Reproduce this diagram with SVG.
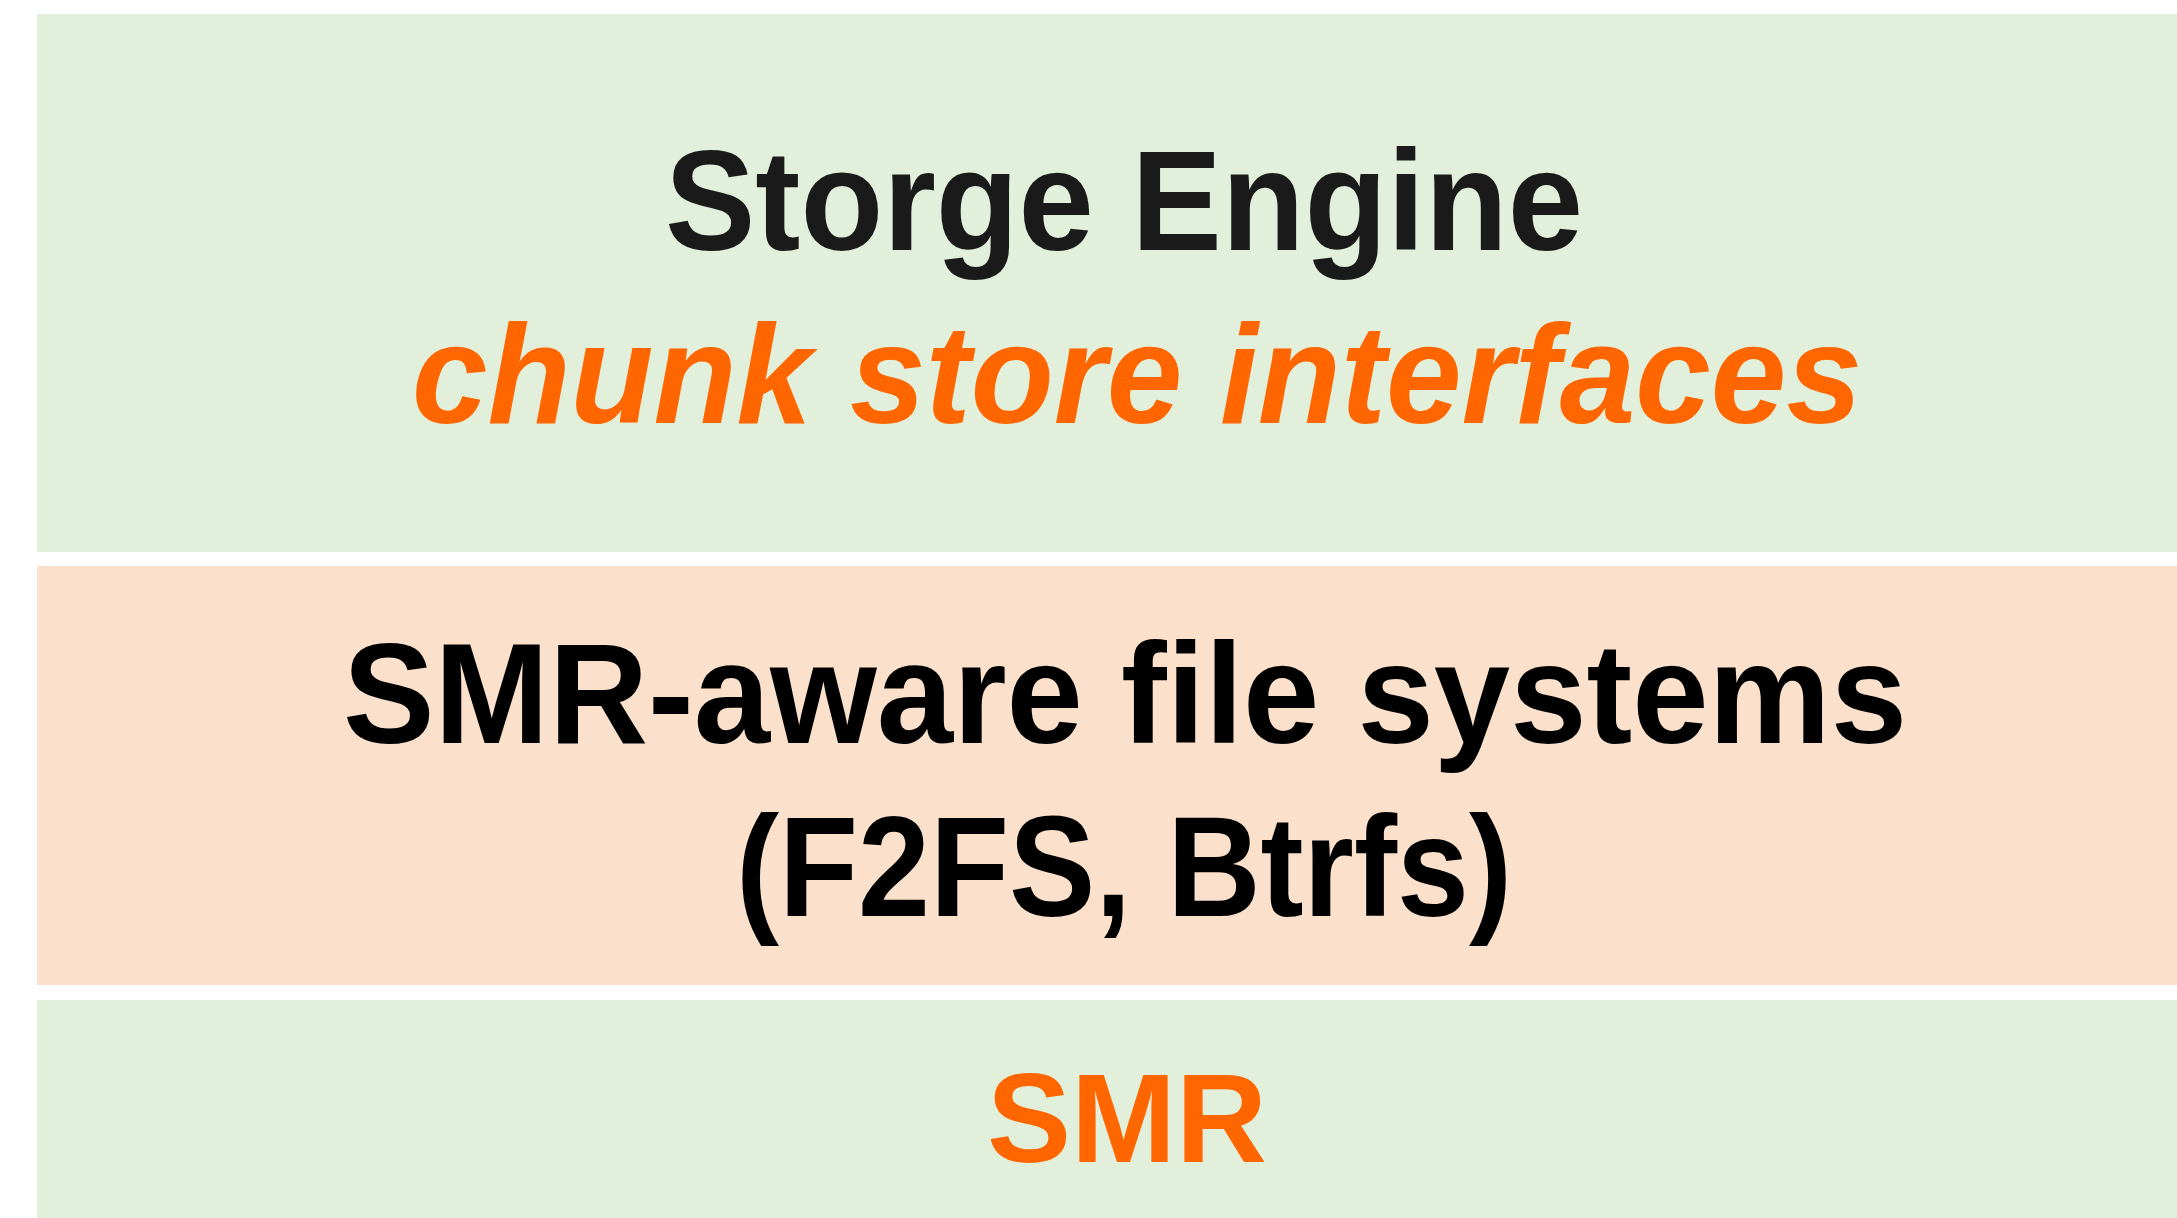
<svg xmlns="http://www.w3.org/2000/svg" width="2177" height="1218" viewBox="0 0 2177 1218">
  <style>
    .layer-green { fill: #E2EFDA; }
    .layer-peach { fill: #FBE0CB; }
    .label { font-family: "Liberation Sans", Arial, sans-serif; font-weight: bold; text-anchor: middle; }
    .dark { fill: #1A1A1A; }
    .black { fill: #000000; }
    .accent { fill: #FF6600; }
  </style>
  <rect x="0" y="0" width="2177" height="1218" fill="#FFFFFF"/>

  <!-- Storage engine layer -->
  <g id="storage-engine">
    <rect class="layer-green" x="37" y="14" width="2140" height="538"/>
    <text class="label dark" x="1124" y="250" font-size="143" textLength="918" lengthAdjust="spacingAndGlyphs">Storge Engine</text>
    <text class="label accent" x="1137" y="423" font-size="141" font-style="italic" textLength="1450" lengthAdjust="spacingAndGlyphs">chunk store interfaces</text>
  </g>

  <!-- File system layer -->
  <g id="smr-aware-fs">
    <rect class="layer-peach" x="37" y="566" width="2140" height="419"/>
    <text class="label black" x="1125" y="743" font-size="143" textLength="1564" lengthAdjust="spacingAndGlyphs">SMR-aware file systems</text>
    <text class="label black" x="1124" y="916" font-size="142" textLength="776" lengthAdjust="spacingAndGlyphs">(F2FS, Btrfs)</text>
  </g>

  <!-- Device layer -->
  <g id="smr">
    <rect class="layer-green" x="37" y="1000" width="2140" height="218"/>
    <text class="label accent" x="1127" y="1162" font-size="126">SMR</text>
  </g>

  <g id="connectors"></g>
</svg>
